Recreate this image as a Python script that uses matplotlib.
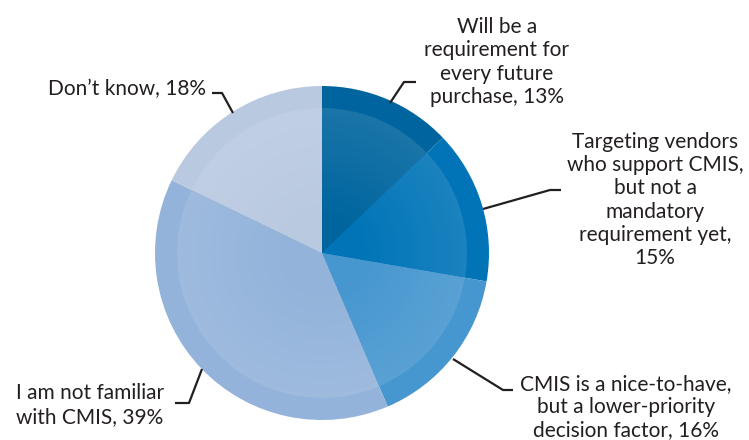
import matplotlib
matplotlib.use("Agg")
import matplotlib.pyplot as plt
import numpy as np
from matplotlib.colors import to_rgb

labels = [
    "Will be a\nrequirement for\nevery future\npurchase, 13%",
    "Targeting vendors\nwho support CMIS,\nbut not a\nmandatory\nrequirement yet,\n15%",
    "CMIS is a nice-to-have,\nbut a lower-priority\ndecision factor, 16%",
    "I am not familiar\nwith CMIS, 39%",
    "Don\u2019t know, 18%",
]
values = [13, 15, 16, 39, 18]
colors = ["#00659e", "#0074b7", "#4696cf", "#93b3da", "#b9c9e0"]

W, H = 749, 440
fig = plt.figure(figsize=(W / 100, H / 100), dpi=100)
ax = fig.add_axes([0, 0, 1, 1])

cx, cy = 322, H - 253
R = 167
Rin = 145

# outer ring
ax.pie(values, colors=colors, startangle=90, counterclock=False,
       radius=R, center=(cx, cy), frame=True,
       wedgeprops=dict(linewidth=0))

# inner gradient disc
def mix(c, t):
    r = np.array(to_rgb(c))
    return tuple(r + (1 - r) * t)

n = 30
for i in range(n):
    r = Rin * (1 - i / n)
    f = max(0.0, (r - 40) / (Rin - 40))
    cols = [mix(c, 0.10 * f) for c in colors]
    ax.pie(values, colors=cols, startangle=90, counterclock=False,
           radius=r, center=(cx, cy), frame=True,
           wedgeprops=dict(linewidth=0))

ax.set_xlim(0, W)
ax.set_ylim(0, H)
ax.set_aspect("equal")
ax.axis("off")

def Y(py):
    return H - py

lc = "#231f20"
leaders = [
    [(390, 103), (404, 82), (416, 82)],
    [(483, 209), (550, 190), (561, 190)],
    [(453, 359), (503, 390), (513, 390)],
    [(202, 369), (189, 403), (175, 403)],
    [(233, 113), (222, 93), (212, 93)],
]
for pts in leaders:
    xs = [p[0] for p in pts]
    ys = [Y(p[1]) for p in pts]
    ax.plot(xs, ys, color=lc, lw=1.6, solid_capstyle="butt")

font = dict(family=["Lato", "DejaVu Sans"], fontsize=15, color=lc, linespacing=1.2)
ax.text(497, Y(62), labels[0], ha="center", va="center", **font)
ax.text(655, Y(200), labels[1], ha="center", va="center", **font)
ax.text(626, Y(407), labels[2], ha="center", va="center", **font)
ax.text(90, Y(405), labels[3], ha="center", va="center", **font)
ax.text(206, Y(89), labels[4], ha="right", va="center", **font)

fig.savefig("out.png", dpi=100)
